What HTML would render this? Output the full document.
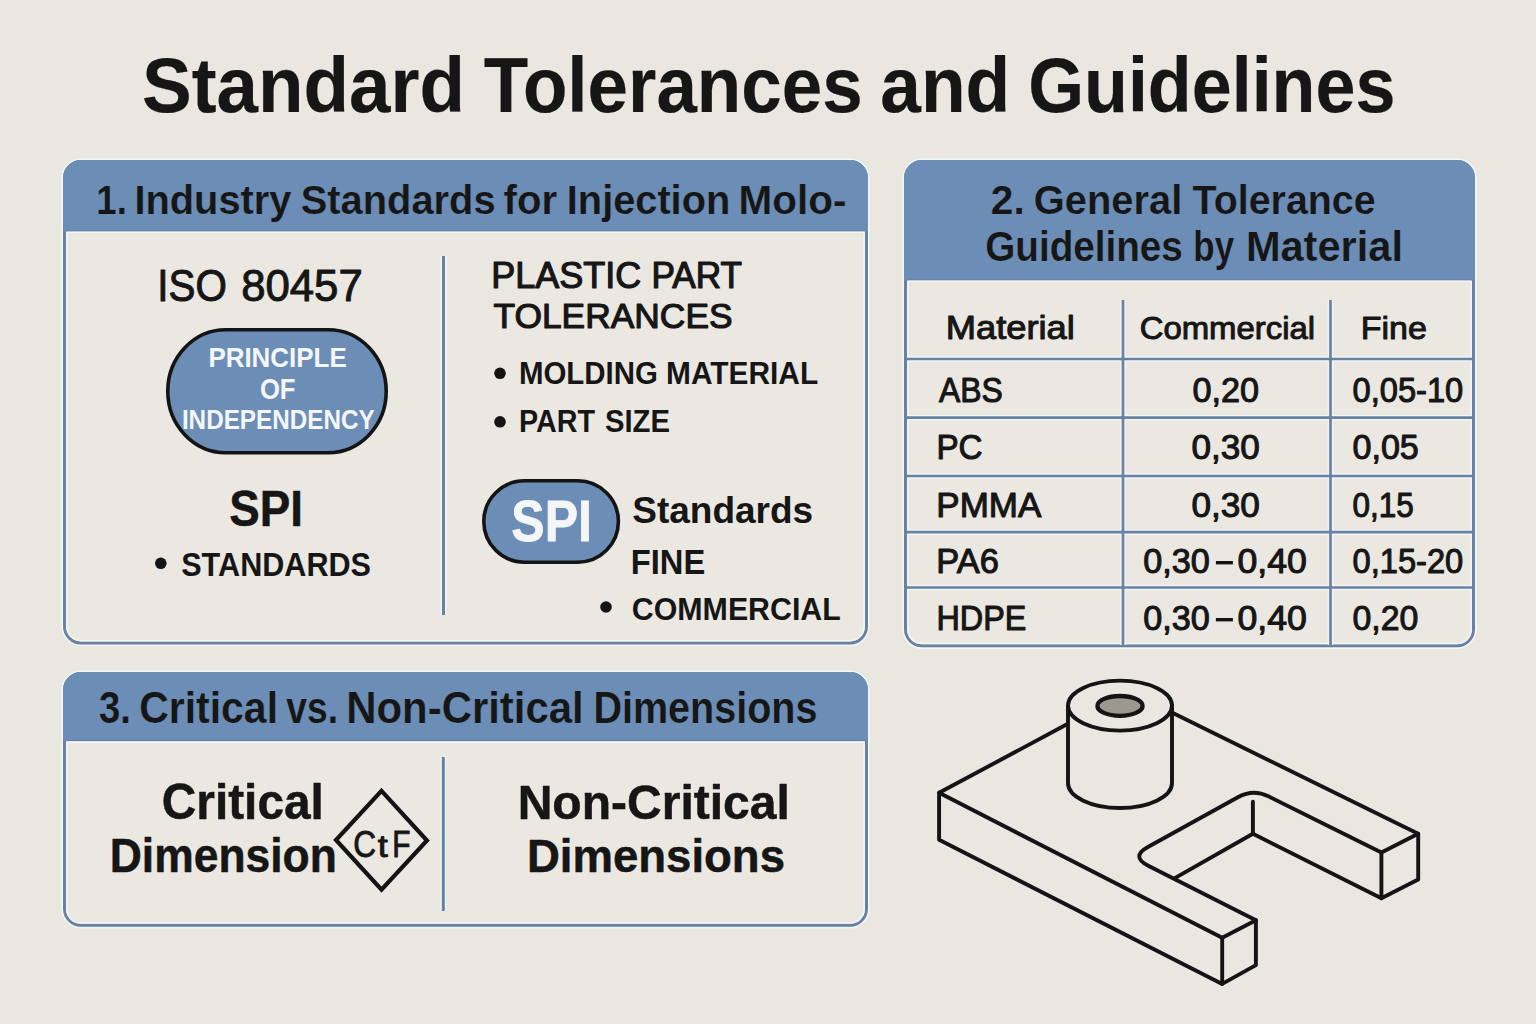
<!DOCTYPE html>
<html><head><meta charset="utf-8"><title>Standard Tolerances and Guidelines</title>
<style>
html,body{margin:0;padding:0;background:#EAE7E1;}
body{width:1536px;height:1024px;overflow:hidden;font-family:"Liberation Sans",sans-serif;}
svg{display:block;}
text{font-family:"Liberation Sans",sans-serif;white-space:pre;}
</style></head><body>
<svg width="1536" height="1024" viewBox="0 0 1536 1024">
<rect x="0" y="0" width="1536" height="1024" fill="#EAE7E1"/>
<rect x="62.2" y="159.2" width="806.6" height="486.1" rx="18.8" fill="none" stroke="#F2F5F8" stroke-width="1.8"/>
<rect x="64.5" y="161.5" width="802" height="481.5" rx="16.5" fill="#EBE8E2" stroke="#6882A0" stroke-width="3"/>
<rect x="66.8" y="163.8" width="797.4" height="476.9" rx="14.2" fill="none" stroke="#F2F5F8" stroke-width="1.6"/>
<path d="M63,231.6 V178 A18,18 0 0 1 81,160 H850 A18,18 0 0 1 868,178 V231.6 Z" fill="#6C8EB6"/>
<line x1="66" y1="231.0" x2="865" y2="231.0" stroke="#5F7FA6" stroke-width="1.2"/>
<line x1="66.5" y1="232.2" x2="864.5" y2="232.2" stroke="#F7F8F8" stroke-width="1.2"/>
<line x1="443.5" y1="256" x2="443.5" y2="615" stroke="#F2F5F8" stroke-width="6"/>
<line x1="443.5" y1="256" x2="443.5" y2="615" stroke="#6882A0" stroke-width="3"/>
<rect x="903.2" y="159.2" width="572.6" height="488.9" rx="18.8" fill="none" stroke="#F2F5F8" stroke-width="1.8"/>
<rect x="905.5" y="161.5" width="568" height="484.29999999999995" rx="16.5" fill="#EBE8E2" stroke="#6882A0" stroke-width="3"/>
<rect x="907.8" y="163.8" width="563.4" height="479.69999999999993" rx="14.2" fill="none" stroke="#F2F5F8" stroke-width="1.6"/>
<path d="M904,280.6 V178 A18,18 0 0 1 922,160 H1457 A18,18 0 0 1 1475,178 V280.6 Z" fill="#6C8EB6"/>
<line x1="907" y1="280.0" x2="1472" y2="280.0" stroke="#5F7FA6" stroke-width="1.2"/>
<line x1="907.5" y1="281.20000000000005" x2="1471.5" y2="281.20000000000005" stroke="#F7F8F8" stroke-width="1.2"/>
<g stroke="#F2F5F8" stroke-width="5.5">
<line x1="1123" y1="300" x2="1123" y2="645"/>
<line x1="1330.5" y1="300" x2="1330.5" y2="645"/>
<line x1="907" y1="359" x2="1472" y2="359"/>
<line x1="907" y1="417.7" x2="1472" y2="417.7"/>
<line x1="907" y1="476" x2="1472" y2="476"/>
<line x1="907" y1="532.2" x2="1472" y2="532.2"/>
<line x1="907" y1="587.5" x2="1472" y2="587.5"/>
</g>
<g stroke="#6882A0" stroke-width="2.7">
<line x1="1123" y1="300" x2="1123" y2="645"/>
<line x1="1330.5" y1="300" x2="1330.5" y2="645"/>
<line x1="907" y1="359" x2="1472" y2="359"/>
<line x1="907" y1="417.7" x2="1472" y2="417.7"/>
<line x1="907" y1="476" x2="1472" y2="476"/>
<line x1="907" y1="532.2" x2="1472" y2="532.2"/>
<line x1="907" y1="587.5" x2="1472" y2="587.5"/>
</g>
<rect x="62.2" y="671.2" width="806.6" height="256.4" rx="18.8" fill="none" stroke="#F2F5F8" stroke-width="1.8"/>
<rect x="64.5" y="673.5" width="802" height="251.79999999999995" rx="16.5" fill="#EBE8E2" stroke="#6882A0" stroke-width="3"/>
<rect x="66.8" y="675.8" width="797.4" height="247.19999999999996" rx="14.2" fill="none" stroke="#F2F5F8" stroke-width="1.6"/>
<path d="M63,741.2 V690 A18,18 0 0 1 81,672 H850 A18,18 0 0 1 868,690 V741.2 Z" fill="#6C8EB6"/>
<line x1="66" y1="740.6" x2="865" y2="740.6" stroke="#5F7FA6" stroke-width="1.2"/>
<line x1="66.5" y1="741.8000000000001" x2="864.5" y2="741.8000000000001" stroke="#F7F8F8" stroke-width="1.2"/>
<line x1="443.3" y1="757" x2="443.3" y2="911" stroke="#F2F5F8" stroke-width="6"/>
<line x1="443.3" y1="757" x2="443.3" y2="911" stroke="#6882A0" stroke-width="3"/>
<rect x="167.8" y="329.8" width="218.4" height="122.9" rx="58" ry="61.4" fill="#6C8EB6" stroke="#141414" stroke-width="3.6"/>
<rect x="483.8" y="480.8" width="134.6" height="81.4" rx="40.7" ry="40.7" fill="#6C8EB6" stroke="#141414" stroke-width="3.6"/>
<g fill="#141414">
<circle cx="160.8" cy="563.3" r="5.8"/>
<circle cx="500" cy="373.3" r="5.8"/>
<circle cx="500" cy="421.8" r="5.8"/>
<circle cx="606" cy="607" r="5.8"/>
</g>
<path d="M381.5,790.8 L427,840.5 L381.5,889.6 L336,840 Z" fill="none" stroke="#141414" stroke-width="4.2" stroke-linejoin="miter"/>
<rect x="1215.9" y="561" width="17" height="3.4" fill="#141414"/>
<rect x="1215.9" y="618" width="17" height="3.4" fill="#141414"/>
<g fill="none" stroke="#141414" stroke-width="3.9" stroke-linejoin="round" stroke-linecap="round">
<path d="M1067.90,723.80 L939.10,792.80 L939.10,839.80 L1222.20,983.90 L1255.90,965.10 L1255.90,920.30"/>
<path d="M939.10,792.80 L1222.20,937.80 L1255.90,920.30"/>
<path d="M1222.20,937.80 L1222.20,983.90"/>
<path d="M1255.90,920.30 L1148.24,865.74 Q1130.40,856.70 1147.90,847.02 L1238.32,797.03 Q1253.20,788.80 1268.42,796.37 L1381.40,852.60 L1418.20,833.80 L1171.90,712.60"/>
<path d="M1381.40,852.60 L1381.40,898.30 L1418.20,879.50 L1418.20,833.80"/>
<path d="M1252.90,801.80 L1252.90,833.80 L1174.80,878.10"/>
<path d="M1252.90,833.80 L1381.40,898.30"/>
<path d="M1068.0,705.6 L1068.0,783.0 A52.0,25.0 0 0 0 1172.0,783.0 L1172.0,705.6" fill="#EAE7E1"/>
<ellipse cx="1120.0" cy="705.6" rx="52.0" ry="25.0" fill="#EAE7E1"/>
<ellipse cx="1120.0" cy="705.9" rx="22.6" ry="9.9" fill="#9C978F" stroke-width="4.3"/>
</g>
<text x="141.93" y="111.70" font-size="76.96" font-weight="bold" fill="#161616" stroke="#161616" stroke-width="0.2" stroke-linejoin="round" textLength="323.24" lengthAdjust="spacingAndGlyphs">Standard</text>
<text x="483.85" y="111.70" font-size="76.96" font-weight="bold" fill="#161616" stroke="#161616" stroke-width="0.2" stroke-linejoin="round" textLength="378.90" lengthAdjust="spacingAndGlyphs">Tolerances</text>
<text x="880.36" y="111.70" font-size="76.96" font-weight="bold" fill="#161616" stroke="#161616" stroke-width="0.2" stroke-linejoin="round" textLength="129.81" lengthAdjust="spacingAndGlyphs">and</text>
<text x="1028.16" y="111.70" font-size="76.96" font-weight="bold" fill="#161616" stroke="#161616" stroke-width="0.2" stroke-linejoin="round" textLength="367.26" lengthAdjust="spacingAndGlyphs">Guidelines</text>
<text x="96.31" y="214.10" font-size="41.25" font-weight="bold" fill="#161616" stroke="#6C8EB6" stroke-width="0.2" stroke-linejoin="round" textLength="30.55" lengthAdjust="spacingAndGlyphs">1.</text>
<text x="134.41" y="214.10" font-size="41.25" font-weight="bold" fill="#161616" stroke="#6C8EB6" stroke-width="0.2" stroke-linejoin="round" textLength="157.04" lengthAdjust="spacingAndGlyphs">Industry</text>
<text x="300.78" y="214.10" font-size="41.25" font-weight="bold" fill="#161616" stroke="#6C8EB6" stroke-width="0.2" stroke-linejoin="round" textLength="194.84" lengthAdjust="spacingAndGlyphs">Standards</text>
<text x="503.57" y="214.10" font-size="41.25" font-weight="bold" fill="#161616" stroke="#6C8EB6" stroke-width="0.2" stroke-linejoin="round" textLength="53.50" lengthAdjust="spacingAndGlyphs">for</text>
<text x="566.82" y="214.10" font-size="41.25" font-weight="bold" fill="#161616" stroke="#6C8EB6" stroke-width="0.2" stroke-linejoin="round" textLength="163.41" lengthAdjust="spacingAndGlyphs">Injection</text>
<text x="738.62" y="214.10" font-size="41.25" font-weight="bold" fill="#161616" stroke="#6C8EB6" stroke-width="0.2" stroke-linejoin="round" textLength="107.84" lengthAdjust="spacingAndGlyphs">Molo-</text>
<text x="990.83" y="213.80" font-size="39.83" font-weight="bold" fill="#161616" stroke="#6C8EB6" stroke-width="0.2" stroke-linejoin="round" textLength="33.98" lengthAdjust="spacingAndGlyphs">2.</text>
<text x="1033.85" y="213.80" font-size="39.83" font-weight="bold" fill="#161616" stroke="#6C8EB6" stroke-width="0.2" stroke-linejoin="round" textLength="148.40" lengthAdjust="spacingAndGlyphs">General</text>
<text x="1192.60" y="213.80" font-size="39.83" font-weight="bold" fill="#161616" stroke="#6C8EB6" stroke-width="0.2" stroke-linejoin="round" textLength="183.08" lengthAdjust="spacingAndGlyphs">Tolerance</text>
<text x="985.19" y="261.00" font-size="42.96" font-weight="bold" fill="#161616" stroke="#6C8EB6" stroke-width="0.2" stroke-linejoin="round" textLength="197.68" lengthAdjust="spacingAndGlyphs">Guidelines</text>
<text x="1193.32" y="261.00" font-size="42.96" font-weight="bold" fill="#161616" stroke="#6C8EB6" stroke-width="0.2" stroke-linejoin="round" textLength="40.76" lengthAdjust="spacingAndGlyphs">by</text>
<text x="1245.90" y="261.00" font-size="42.96" font-weight="bold" fill="#161616" stroke="#6C8EB6" stroke-width="0.2" stroke-linejoin="round" textLength="157.05" lengthAdjust="spacingAndGlyphs">Material</text>
<text x="98.90" y="723.40" font-size="44.24" font-weight="bold" fill="#161616" stroke="#6C8EB6" stroke-width="0.2" stroke-linejoin="round" textLength="31.96" lengthAdjust="spacingAndGlyphs">3.</text>
<text x="139.22" y="723.40" font-size="44.24" font-weight="bold" fill="#161616" stroke="#6C8EB6" stroke-width="0.2" stroke-linejoin="round" textLength="138.80" lengthAdjust="spacingAndGlyphs">Critical</text>
<text x="286.20" y="723.40" font-size="44.24" font-weight="bold" fill="#161616" stroke="#6C8EB6" stroke-width="0.2" stroke-linejoin="round" textLength="51.80" lengthAdjust="spacingAndGlyphs">vs.</text>
<text x="346.28" y="723.40" font-size="44.24" font-weight="bold" fill="#161616" stroke="#6C8EB6" stroke-width="0.2" stroke-linejoin="round" textLength="237.39" lengthAdjust="spacingAndGlyphs">Non-Critical</text>
<text x="593.43" y="723.40" font-size="44.24" font-weight="bold" fill="#161616" stroke="#6C8EB6" stroke-width="0.2" stroke-linejoin="round" textLength="223.97" lengthAdjust="spacingAndGlyphs">Dimensions</text>
<text x="157.35" y="300.90" font-size="44.24" font-weight="normal" fill="#161616" stroke="#161616" stroke-width="1.0" stroke-linejoin="round" textLength="69.51" lengthAdjust="spacingAndGlyphs">ISO</text>
<text x="241.13" y="300.90" font-size="44.24" font-weight="normal" fill="#161616" stroke="#161616" stroke-width="1.0" stroke-linejoin="round" textLength="121.64" lengthAdjust="spacingAndGlyphs">80457</text>
<text x="208.38" y="366.60" font-size="28.31" font-weight="bold" fill="#F4F6F8" textLength="138.30" lengthAdjust="spacingAndGlyphs">PRINCIPLE</text>
<text x="259.90" y="399.40" font-size="30.01" font-weight="bold" fill="#F4F6F8" textLength="35.64" lengthAdjust="spacingAndGlyphs">OF</text>
<text x="181.88" y="429.40" font-size="26.74" font-weight="bold" fill="#F4F6F8" textLength="192.78" lengthAdjust="spacingAndGlyphs">INDEPENDENCY</text>
<text x="229.14" y="526.45" font-size="50.36" font-weight="bold" fill="#161616" stroke="#161616" stroke-width="0.5" stroke-linejoin="round" textLength="73.72" lengthAdjust="spacingAndGlyphs">SPI</text>
<text x="181.22" y="575.80" font-size="33.43" font-weight="bold" fill="#161616" textLength="189.78" lengthAdjust="spacingAndGlyphs">STANDARDS</text>
<text x="491.19" y="287.60" font-size="36.42" font-weight="normal" fill="#161616" stroke="#161616" stroke-width="1.2" stroke-linejoin="round" textLength="150.06" lengthAdjust="spacingAndGlyphs">PLASTIC</text>
<text x="651.45" y="287.60" font-size="36.42" font-weight="normal" fill="#161616" stroke="#161616" stroke-width="1.2" stroke-linejoin="round" textLength="90.65" lengthAdjust="spacingAndGlyphs">PART</text>
<text x="493.45" y="327.90" font-size="35.99" font-weight="normal" fill="#161616" stroke="#161616" stroke-width="1.2" stroke-linejoin="round" textLength="239.14" lengthAdjust="spacingAndGlyphs">TOLERANCES</text>
<text x="518.96" y="384.00" font-size="31.44" font-weight="bold" fill="#161616" textLength="138.98" lengthAdjust="spacingAndGlyphs">MOLDING</text>
<text x="666.03" y="384.00" font-size="31.44" font-weight="bold" fill="#161616" textLength="152.18" lengthAdjust="spacingAndGlyphs">MATERIAL</text>
<text x="519.01" y="432.20" font-size="31.86" font-weight="bold" fill="#161616" textLength="76.04" lengthAdjust="spacingAndGlyphs">PART</text>
<text x="604.94" y="432.20" font-size="31.86" font-weight="bold" fill="#161616" textLength="65.03" lengthAdjust="spacingAndGlyphs">SIZE</text>
<text x="511.32" y="540.85" font-size="56.97" font-weight="bold" fill="#F4F6F8" stroke="#F4F6F8" stroke-width="0.8" stroke-linejoin="round" textLength="80.53" lengthAdjust="spacingAndGlyphs">SPI</text>
<text x="632.22" y="522.50" font-size="36.98" font-weight="bold" fill="#161616" textLength="180.98" lengthAdjust="spacingAndGlyphs">Standards</text>
<text x="630.76" y="574.00" font-size="34.42" font-weight="bold" fill="#161616" textLength="74.51" lengthAdjust="spacingAndGlyphs">FINE</text>
<text x="631.85" y="620.20" font-size="31.58" font-weight="bold" fill="#161616" textLength="208.97" lengthAdjust="spacingAndGlyphs">COMMERCIAL</text>
<text x="161.76" y="819.45" font-size="49.36" font-weight="bold" fill="#161616" stroke="#161616" stroke-width="0.5" stroke-linejoin="round" textLength="162.12" lengthAdjust="spacingAndGlyphs">Critical</text>
<text x="109.77" y="872.15" font-size="47.51" font-weight="bold" fill="#161616" stroke="#161616" stroke-width="0.5" stroke-linejoin="round" textLength="227.12" lengthAdjust="spacingAndGlyphs">Dimension</text>
<text x="353.27" y="856.95" font-size="36.27" font-weight="normal" fill="#161616" stroke="#161616" stroke-width="0.9" stroke-linejoin="round" textLength="22.77" lengthAdjust="spacingAndGlyphs">C</text>
<text x="377.65" y="857.15" font-size="31.44" font-weight="normal" fill="#161616" stroke="#161616" stroke-width="0.9" stroke-linejoin="round" textLength="10.08" lengthAdjust="spacingAndGlyphs">t</text>
<text x="392.32" y="857.35" font-size="36.27" font-weight="normal" fill="#161616" stroke="#161616" stroke-width="0.9" stroke-linejoin="round" textLength="18.20" lengthAdjust="spacingAndGlyphs">F</text>
<text x="517.65" y="819.15" font-size="48.22" font-weight="bold" fill="#161616" stroke="#161616" stroke-width="0.5" stroke-linejoin="round" textLength="272.24" lengthAdjust="spacingAndGlyphs">Non-Critical</text>
<text x="526.90" y="871.95" font-size="46.51" font-weight="bold" fill="#161616" stroke="#161616" stroke-width="0.5" stroke-linejoin="round" textLength="258.09" lengthAdjust="spacingAndGlyphs">Dimensions</text>
<text x="945.66" y="339.30" font-size="32.86" font-weight="normal" fill="#161616" stroke="#161616" stroke-width="1.0" stroke-linejoin="round" textLength="129.23" lengthAdjust="spacingAndGlyphs">Material</text>
<text x="1139.66" y="339.10" font-size="32.15" font-weight="normal" fill="#161616" stroke="#161616" stroke-width="1.0" stroke-linejoin="round" textLength="175.41" lengthAdjust="spacingAndGlyphs">Commercial</text>
<text x="1360.74" y="339.10" font-size="32.15" font-weight="normal" fill="#161616" stroke="#161616" stroke-width="1.0" stroke-linejoin="round" textLength="66.13" lengthAdjust="spacingAndGlyphs">Fine</text>
<text x="939.05" y="401.95" font-size="35.42" font-weight="normal" fill="#161616" stroke="#161616" stroke-width="1.1" stroke-linejoin="round" textLength="63.74" lengthAdjust="spacingAndGlyphs">ABS</text>
<text x="1192.48" y="401.95" font-size="35.42" font-weight="normal" fill="#161616" stroke="#161616" stroke-width="1.1" stroke-linejoin="round" textLength="66.62" lengthAdjust="spacingAndGlyphs">0,20</text>
<text x="1352.53" y="401.95" font-size="35.42" font-weight="normal" fill="#161616" stroke="#161616" stroke-width="1.1" stroke-linejoin="round" textLength="110.73" lengthAdjust="spacingAndGlyphs">0,05-10</text>
<text x="936.45" y="459.45" font-size="35.42" font-weight="normal" fill="#161616" stroke="#161616" stroke-width="1.1" stroke-linejoin="round" textLength="46.15" lengthAdjust="spacingAndGlyphs">PC</text>
<text x="1191.45" y="459.45" font-size="35.42" font-weight="normal" fill="#161616" stroke="#161616" stroke-width="1.1" stroke-linejoin="round" textLength="68.37" lengthAdjust="spacingAndGlyphs">0,30</text>
<text x="1352.48" y="459.45" font-size="35.42" font-weight="normal" fill="#161616" stroke="#161616" stroke-width="1.1" stroke-linejoin="round" textLength="66.35" lengthAdjust="spacingAndGlyphs">0,05</text>
<text x="936.32" y="516.95" font-size="35.42" font-weight="normal" fill="#161616" stroke="#161616" stroke-width="1.1" stroke-linejoin="round" textLength="104.96" lengthAdjust="spacingAndGlyphs">PMMA</text>
<text x="1191.45" y="516.95" font-size="35.42" font-weight="normal" fill="#161616" stroke="#161616" stroke-width="1.1" stroke-linejoin="round" textLength="68.37" lengthAdjust="spacingAndGlyphs">0,30</text>
<text x="1352.57" y="516.95" font-size="35.42" font-weight="normal" fill="#161616" stroke="#161616" stroke-width="1.1" stroke-linejoin="round" textLength="61.16" lengthAdjust="spacingAndGlyphs">0,15</text>
<text x="936.36" y="572.65" font-size="35.42" font-weight="normal" fill="#161616" stroke="#161616" stroke-width="1.1" stroke-linejoin="round" textLength="62.48" lengthAdjust="spacingAndGlyphs">PA6</text>
<text x="1143.18" y="572.65" font-size="35.42" font-weight="normal" fill="#161616" stroke="#161616" stroke-width="1.1" stroke-linejoin="round" textLength="66.52" lengthAdjust="spacingAndGlyphs">0,30</text>
<text x="1237.44" y="572.65" font-size="35.42" font-weight="normal" fill="#161616" stroke="#161616" stroke-width="1.1" stroke-linejoin="round" textLength="69.30" lengthAdjust="spacingAndGlyphs">0,40</text>
<text x="1352.53" y="572.65" font-size="35.42" font-weight="normal" fill="#161616" stroke="#161616" stroke-width="1.1" stroke-linejoin="round" textLength="110.73" lengthAdjust="spacingAndGlyphs">0,15-20</text>
<text x="936.53" y="629.95" font-size="35.42" font-weight="normal" fill="#161616" stroke="#161616" stroke-width="1.1" stroke-linejoin="round" textLength="89.78" lengthAdjust="spacingAndGlyphs">HDPE</text>
<text x="1143.18" y="629.95" font-size="35.42" font-weight="normal" fill="#161616" stroke="#161616" stroke-width="1.1" stroke-linejoin="round" textLength="66.52" lengthAdjust="spacingAndGlyphs">0,30</text>
<text x="1237.44" y="629.95" font-size="35.42" font-weight="normal" fill="#161616" stroke="#161616" stroke-width="1.1" stroke-linejoin="round" textLength="69.30" lengthAdjust="spacingAndGlyphs">0,40</text>
<text x="1352.49" y="629.95" font-size="35.42" font-weight="normal" fill="#161616" stroke="#161616" stroke-width="1.1" stroke-linejoin="round" textLength="65.80" lengthAdjust="spacingAndGlyphs">0,20</text>
</svg>
</body></html>
